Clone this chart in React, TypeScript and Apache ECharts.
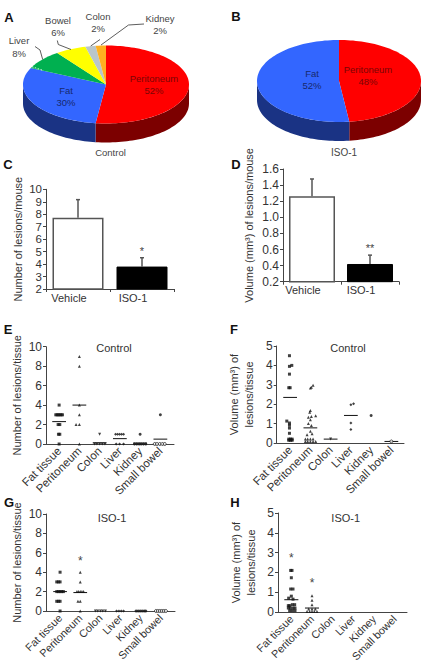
import React, { useEffect, useRef } from "react";
import * as echarts from "echarts";

const FONT = "Liberation Sans, Arial, sans-serif";
const INK = "#333333";

// Pie data
const pieANames = ["Peritoneum", "Fat", "Liver", "Bowel", "Colon", "Kidney"];
const pieAValues = [52, 30, 8, 6, 2, 2];
const pieBNames = ["Peritoneum", "Fat"];
const pieBValues = [48, 52];
const pieTopColors: Record<string, string> = { Peritoneum: "#ff0000", Fat: "#3366ff", Liver: "#00b050", Bowel: "#ffff00", Colon: "#b9c6ca", Kidney: "#ffb020" };
const pieSideColors: Record<string, string> = { Peritoneum: "#7c0000", Fat: "#1a3384", Liver: "#005828", Bowel: "#808000", Colon: "#5c6365", Kidney: "#805810" };

// Bars
const barCategories = ["Vehicle", "ISO-1"];
const cMeans = [7.72, 3.8];
const cTops = [9.17, 4.51];
const dMeans = [1.26, 0.42];
const dTops = [1.476, 0.53];

// Scatter categories
const tissues = ["Fat tissue", "Peritoneum", "Colon", "Liver", "Kidney", "Small bowel"];

// Each point: [tissue index, jitter in zoom pixels around its column, value]
const ePoints = [
  [0,0,4],[0,-10,3],[0,-6,3],[0,-2,3],[0,2,3],[0,6,3],[0,10,3],[0,-3,2],[0,2,2],[0,-2,1],[0,2,1],[0,0,0],
  [1,0,9],[1,0,8],[1,0,4],[1,0,3],[1,-10,2],[1,0,2],[1,0,0],
  [2,0,1],[2,-15,0],[2,-8,0],[2,0,0],[2,8,0],[2,16,0],
  [3,-13,1],[3,-7,1],[3,-1,1],[3,5,1],[3,11,1],[3,-11,0],[3,-1,0],[3,11,0],
  [4,0,1],[4,-17,0],[4,-10,0],[4,-3,0],[4,3,0],[4,10,0],[4,17,0],
  [5,0,3],[5,-17,0],[5,-10,0],[5,-2,0],[5,6,0],[5,13,0],
];
const eMeans = [2.3, 4, 0.12, 0.55, 0.1, 0.5];

const fPoints = [
  [0,-2,4.5],[0,-2,3.95],[0,5,4],[0,-2,3.55],[0,-4,2.85],[0,0,2.85],[0,-10,1.13],[0,-2,1.03],[0,-2,0.92],[0,-2,0.77],[0,-2,0.5],
  [0,-4,0.2],[0,1,0.2],[0,6,0.2],[0,-4,0.14],[0,1,0.14],[0,6,0.14],
  [1,8,2.98],[1,0,2.83],[1,3,2.87],[1,0,1.68],[1,-2,1.58],[1,-6,1.33],[1,3,1.37],[1,16,1.4],[1,0,1.2],[1,-6,1],[1,3,0.9],[1,0,0.6],[1,-10,0.43],[1,5,0.48],
  [1,-15,0.2],[1,-8,0.2],[1,0,0.2],[1,8,0.2],[1,-15,0.08],[1,-8,0.08],[1,0,0.08],[1,8,0.08],[1,16,0.08],
  [2,0,0.2],
  [3,0,1.97],[3,8,2.02],[3,0,1.03],[3,0,0.7],
  [4,0,1.42],
  [5,0,0.08],
];
const fMeans = [2.35, 0.78, 0.2, 1.42, null, 0.08];

const gPoints = [
  [0,0,4],[0,-10,3],[0,-5,3],[0,0,3],[0,-10,2],[0,-5,2],[0,0,2],[0,5,2],[0,10,2],[0,-10,1],[0,-5,1],[0,0,1],[0,0,0],
  [1,0,4],[1,0,3],[1,-10,2],[1,-5,2],[1,0,2],[1,5,2],[1,10,2],[1,-7,1],[1,0,1],[1,0,0],
  [2,-15,0],[2,-8,0],[2,0,0],[2,7,0],[2,15,0],
  [3,-12,0],[3,-5,0],[3,2,0],[3,9,0],
  [4,-14,0],[4,-8,0],[4,-2,0],[4,4,0],[4,10,0],[4,15,0],
  [5,-15,0],[5,-9,0],[5,-3,0],[5,3,0],[5,9,0],[5,15,0],
];
const gMeans = [2, 1.9, null, null, null, null];

const hPoints = [
  [0,-2,2.1],[0,2,2.1],[0,0,1.73],[0,-2,1.16],[0,5,1.16],[0,-8,0.7],[0,0,0.8],[0,5,0.65],
  [0,-9,0.32],[0,-5,0.32],[0,3,0.37],[0,10,0.37],[0,-9,0.2],[0,-3,0.2],[0,5,0.2],[0,11,0.2],[0,-5,0.07],[0,3,0.07],[0,11,0.07],
  [1,0,0.82],[1,0,0.59],[1,0,0.37],[1,-10,0.15],[1,0,0.15],[1,10,0.15],[1,-15,0.03],[1,-7,0.03],[1,0,0.03],[1,7,0.03],[1,15,0.03],
];
const hMeans = [0.62, 0.2, null, null, null, null];

const gStars = [[1, 5.2, "*"]];
const hStars = [[0, 2.72, "*"], [1, 1.45, "*"]];
const cStars = [[1, 5.05, "*"]];
const dStars = [[1, 0.62, "**"]];

const symbols = ["rect", "triangle", "triangle", "diamond", "circle", "circle"];
const symbolRotations = [0, 0, 180, 0, 0, 0];

function App() {
  const ref = useRef<HTMLDivElement>(null);
  useEffect(() => {
    const chart = echarts.init(ref.current!, null, { renderer: "svg" });

    const grid: any[] = [];
    const xAxis: any[] = [];
    const yAxis: any[] = [];
    const series: any[] = [];
    const graphic: any[] = [];

    const text = (s: string, x: number, y: number, fontSize: number, fill = INK, fontWeight: any = "normal", lineHeight?: number) =>
      graphic.push({
        type: "text", x, y, silent: true, z: 100,
        style: { text: s, fontSize, fontFamily: FONT, fill, fontWeight, align: "center", verticalAlign: "middle", lineHeight: lineHeight || fontSize + 2 },
      });

    // 3D pies
    const pie = (names: string[], values: number[], cx: number, cy: number, rx: number, ry: number, depth: number) => {
      const total = values.reduce((a, b) => a + b, 0);
      const starts: number[] = [];
      let acc = 0;
      values.forEach((v) => { starts.push(acc); acc += v; });
      const at = (deg: number, dy = 0) => {
        const r = (deg * Math.PI) / 180;
        return [cx + rx * Math.sin(r), cy - ry * Math.cos(r) + dy];
      };
      const arc = (a: number, b: number, dy = 0) => {
        const pts: number[][] = [];
        const n = Math.max(2, Math.ceil((b - a) / 2));
        for (let i = 0; i <= n; i++) pts.push(at(a + ((b - a) * i) / n, dy));
        return pts;
      };
      series.push({
        type: "custom",
        coordinateSystem: "none",
        silent: true,
        z: 1,
        data: values.map((v, i) => [v, i]),
        renderItem: (params: any, api: any) => {
          const i = params.dataIndex;
          const a = (starts[i] / total) * 360;
          const b = ((starts[i] + api.value(0)) / total) * 360;
          const children: any[] = [];
          const sa = Math.max(a, 90);
          const sb = Math.min(b, 270);
          if (sb > sa) {
            children.push({
              type: "polygon",
              shape: { points: [...arc(sa, sb), ...arc(sa, sb, depth).reverse()] },
              style: { fill: pieSideColors[names[i]] },
            });
          }
          children.push({
            type: "polygon",
            shape: { points: [[cx, cy], ...arc(a, b)] },
            style: { fill: pieTopColors[names[i]] },
          });
          return { type: "group", children };
        },
      });
    };
    pie(pieANames, pieAValues, 106, 84.5, 83, 39, 19);
    pie(pieBNames, pieBValues, 339, 81, 82, 41, 19);

    const lbl = (names: string[], values: number[], i: number) => `${names[i]}\n${values[i]}%`;
    const LABEL = 9.5;
    text(lbl(pieANames, pieAValues, 0), 154, 84, LABEL, "#7a0505", "normal", 12);
    text(lbl(pieANames, pieAValues, 1), 66, 96, LABEL, "#17296e", "normal", 12);
    text(lbl(pieANames, pieAValues, 2), 19, 47, LABEL, "#444", "normal", 12.5);
    text(lbl(pieANames, pieAValues, 3), 58, 26.5, LABEL, "#444", "normal", 12.5);
    text(lbl(pieANames, pieAValues, 4), 98, 22, LABEL, "#444", "normal", 12);
    text(lbl(pieANames, pieAValues, 5), 160, 24, LABEL, "#444", "normal", 12);
    text(lbl(pieBNames, pieBValues, 1), 312, 79, LABEL, "#17296e", "normal", 12);
    text(lbl(pieBNames, pieBValues, 0), 368, 75, LABEL, "#7a0505", "normal", 12);
    text("Control", 110.5, 152, 9.5, "#444");
    text("ISO-1", 344, 152, 10, "#444");

    const leader = (points: number[][]) =>
      graphic.push({ type: "polyline", silent: true, z: 100, shape: { points }, style: { stroke: "#333", lineWidth: 0.8, fill: "none" } });
    leader([[35, 46.5], [40, 50], [42.7, 59.5]]);
    leader([[57.3, 40.5], [58.3, 44.5], [71, 49.5]]);
    leader([[100, 39.5], [90.7, 46]]);
    leader([[144, 24], [128.5, 25], [101, 45]]);
    graphic.push({ type: "line", silent: true, z: 100, shape: { x1: 32, y1: 66.7, x2: 42, y2: 70 }, style: { stroke: "#fff", lineWidth: 0.8, lineDash: [1.5, 1.5] } });

    const axisLine = { show: true, lineStyle: { color: "#444", width: 1 } };
    const tick = { show: true, length: 3, inside: false, lineStyle: { color: "#444", width: 1 } };
    const tickLabel = { fontSize: 12, fontFamily: FONT, color: INK, margin: 4 };
    const nameStyle = { fontSize: 11, fontFamily: FONT, color: INK, lineHeight: 15 };

    const starSeries = (stars: any[], xi: number, yi: number, size = 11) => ({
      type: "custom", xAxisIndex: xi, yAxisIndex: yi, silent: true, clip: false,
      itemStyle: { color: "#444" },
      data: stars.map((s) => [s[0], s[1]]),
      renderItem: (params: any, api: any) => {
        const p = api.coord([api.value(0), api.value(1)]);
        return { type: "text", x: p[0], y: p[1], style: { text: stars[params.dataIndex][2], fontSize: size, fontFamily: FONT, fill: "#444", align: "center", verticalAlign: "middle" } };
      },
    });

    // Bars
    const barPanel = (left: number, right: number, top: number, bottom: number, min: number, max: number, interval: number, means: number[], tops: number[], stars: any[], barWidth: number, name: string, nameGap: number, fmt: any, labelShift: number, valueSize: number) => {
      const gi = grid.length;
      grid.push({ left, width: right - left, top, height: bottom - top, outerBoundsMode: "none" });
      xAxis.push({
        type: "category", gridIndex: gi, data: barCategories,
        axisLine, axisTick: { ...tick, alignWithLabel: false },
        axisLabel: { ...tickLabel, fontSize: 11, margin: 3, padding: [0, labelShift, 0, 0] },
      });
      yAxis.push({
        type: "value", gridIndex: gi, min, max, interval,
        axisLine, axisTick: tick, splitLine: { show: false },
        axisLabel: { ...tickLabel, fontSize: valueSize, lineHeight: valueSize, formatter: fmt },
        name, nameLocation: "middle", nameRotate: 90, nameGap, nameTextStyle: nameStyle,
      });
      const xi = xAxis.length - 1;
      const yi = yAxis.length - 1;
      series.push({
        type: "bar", xAxisIndex: xi, yAxisIndex: yi, barWidth, silent: true,
        data: means.map((v, i) => ({
          value: v,
          itemStyle: i === 0 ? { color: "#fff", borderColor: "#555", borderWidth: 1.5 } : { color: "#000", borderColor: "#000", borderWidth: 1 },
        })),
      });
      series.push({
        type: "custom", xAxisIndex: xi, yAxisIndex: yi, silent: true, z: 1,
        data: means.map((v, i) => [i, v, tops[i]]),
        renderItem: (_p: any, api: any) => {
          const a = api.coord([api.value(0), api.value(1)]);
          const b = api.coord([api.value(0), api.value(2)]);
          const s = { stroke: "#555", lineWidth: 1.5 };
          return {
            type: "group",
            children: [
              { type: "line", shape: { x1: a[0], y1: a[1], x2: b[0], y2: b[1] }, style: s },
              { type: "line", shape: { x1: b[0] - 2, y1: b[1], x2: b[0] + 2, y2: b[1] }, style: s },
            ],
          };
        },
      });
      series.push(starSeries(stars, xi, yi, 11));
    };
    barPanel(46, 174, 189.3, 289, 2, 10, 1, cMeans, cTops, cStars, 51, "Number of lesions/mouse", 21, undefined, 18, 11.5);
    barPanel(283, 399, 169, 281.7, 0.2, 1.6, 0.2, dMeans, dTops, dStars, 46, "Volume (mm³) of lesions/mouse", 27, (v: number) => v.toFixed(1), 18, 12);

    // Scatter panels
    const dotPanel = (frameLeft: number, frameRight: number, innerLeft: number, innerRight: number, top: number, bottom: number, max: number, interval: number, points: number[][], means: (number | null)[], stars: any[], name: string, nameGap: number, catSize: number) => {
      const frame = grid.length;
      grid.push({ left: frameLeft, width: frameRight - frameLeft, top, height: bottom - top, outerBoundsMode: "none" });
      xAxis.push({ type: "value", gridIndex: frame, min: 0, max: 1, axisLine, axisTick: { show: false }, axisLabel: { show: false }, splitLine: { show: false } });
      yAxis.push({
        type: "value", gridIndex: frame, min: 0, max, interval,
        axisLine, axisTick: tick, splitLine: { show: false }, axisLabel: tickLabel,
        name, nameLocation: "middle", nameRotate: 90, nameGap, nameTextStyle: nameStyle,
      });
      const inner = grid.length;
      grid.push({ left: innerLeft, width: innerRight - innerLeft, top, height: bottom - top, outerBoundsMode: "none" });
      xAxis.push({
        type: "category", gridIndex: inner, data: tissues,
        axisLine: { show: false }, axisTick: { show: false },
        axisLabel: { ...tickLabel, fontSize: catSize, margin: 5, rotate: 45, interval: 0 },
      });
      const xi = xAxis.length;
      xAxis.push({ type: "value", gridIndex: inner, min: -0.5, max: 5.5, show: false });
      const yi = yAxis.length;
      yAxis.push({ type: "value", gridIndex: inner, min: 0, max, interval, show: false });
      const unit = (innerRight - innerLeft) / 6;
      tissues.forEach((t, c) => {
        series.push({
          type: "scatter", name: t, xAxisIndex: xi, yAxisIndex: yi, silent: true, clip: false,
          symbol: symbols[c], symbolRotate: symbolRotations[c], symbolSize: 3,
          itemStyle: { color: "#111" },
          data: points.filter((p) => p[0] === c).map((p) => ({
            value: [p[0] + p[1] / 3 / unit, p[2]],
            itemStyle: c === 5 && p[2] < 1 ? { color: "#fff", borderColor: "#111", borderWidth: 0.9 } : { color: "#111" },
          })),
        });
      });
      series.push({
        type: "custom", xAxisIndex: xi, yAxisIndex: yi, silent: true, clip: false,
        data: means.map((m, i) => [i, m]).filter((d) => d[1] !== null),
        renderItem: (_p: any, api: any) => {
          const a = api.coord([api.value(0) - 0.34, api.value(1)]);
          const b = api.coord([api.value(0) + 0.34, api.value(1)]);
          return { type: "line", shape: { x1: a[0], y1: a[1], x2: b[0], y2: b[1] }, style: { stroke: "#111", lineWidth: 1 } };
        },
      });
      series.push(starSeries(stars, xi, yi, 12));
    };
    const V2 = "Volume (mm³) of\nlesions/tissue";
    const N2 = "Number of lesions/tissue";
    dotPanel(46, 174, 49, 170.5, 346.7, 444, 10, 2, ePoints, eMeans, [], N2, 20, 11.5);
    dotPanel(276.7, 404, 280, 401.5, 346, 443, 5, 1, fPoints, fMeans, [], V2, 20, 11.5);
    dotPanel(46, 175, 50, 171, 514, 611, 10, 2, gPoints, gMeans, gStars, N2, 20, 10.8);
    dotPanel(278, 407, 281, 405, 513, 612, 5, 1, hPoints, hMeans, hStars, V2, 20, 10.8);

    text("Control", 114, 347.5, 11);
    text("Control", 348, 347.5, 11);
    text("ISO-1", 112, 517.5, 11);
    text("ISO-1", 345.7, 517.5, 11);

    const letters: [string, number, number][] = [["A", 9, 17], ["B", 236, 16], ["C", 8, 164], ["D", 236, 164], ["E", 8, 329], ["F", 234, 329], ["G", 9, 502], ["H", 235, 502]];
    letters.forEach(([s, x, y]) => text(s, x, y, 13, "#111", "bold"));

    chart.setOption({ animation: false, backgroundColor: "#fff", grid, xAxis, yAxis, series, graphic });
    return () => chart.dispose();
  }, []);
  return <div ref={ref} style={{ position: "fixed", left: 0, top: 0, width: 425, height: 663 }} />;
}

export default App;
